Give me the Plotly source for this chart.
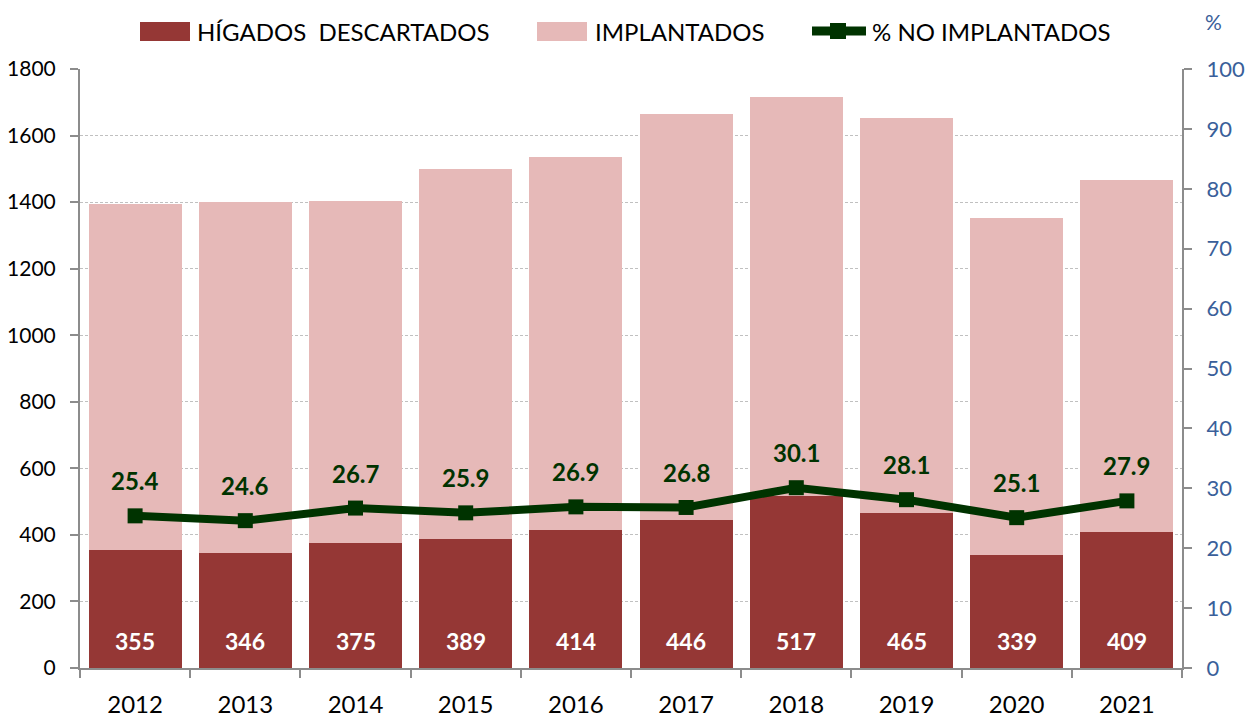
import plotly.graph_objects as go

years = ["2012", "2013", "2014", "2015", "2016", "2017", "2018", "2019", "2020", "2021"]
descartados = [355, 346, 375, 389, 414, 446, 517, 465, 339, 409]
implantados = [1038, 1054, 1029, 1111, 1123, 1218, 1199, 1187, 1012, 1057]
pct_no_impl = [25.4, 24.6, 26.7, 25.9, 26.9, 26.8, 30.1, 28.1, 25.1, 27.9]
names = ["HÍGADOS  DESCARTADOS", "IMPLANTADOS", "% NO IMPLANTADOS"]

C_DARK = "#953735"
C_PINK = "#E6B9B8"
C_LINE = "#003300"
C_BLUE = "#3A5F9A"
FONT = "Lato"

W, H = 1246, 711
ML, MR, MT, MB = 72, 72, 61, 51
PW, PH = W - ML - MR, H - MT - MB


def px(x):
    return (x - ML) / PW


def py(y):
    return 1 - (y - MT) / PH


fig = go.Figure()
fig.add_trace(go.Bar(
    x=years, y=descartados, name=names[0],
    marker=dict(color=C_DARK, line=dict(width=0)),
))
fig.add_trace(go.Bar(
    x=years, y=implantados, name=names[1],
    marker=dict(color=C_PINK, line=dict(width=0)),
))
fig.add_trace(go.Scatter(
    x=years, y=pct_no_impl, name=names[2], yaxis="y2",
    mode="lines+markers",
    line=dict(color=C_LINE, width=8),
    marker=dict(symbol="square", size=15, color=C_LINE),
))
for i, v in enumerate(descartados):
    fig.add_annotation(x=i, y=0, xref="x", yref="y", text=str(v), showarrow=False,
                       yanchor="middle", yshift=27,
                       font=dict(color="white", size=23, family=FONT, weight="bold"))
for i, p in enumerate(pct_no_impl):
    fig.add_annotation(x=i, y=p, xref="x", yref="y2", text=f"{p:.1f}", showarrow=False,
                       yshift=35, font=dict(color=C_LINE, size=24, family=FONT, weight="bold"))

# custom legend
ly = 23
shapes = [
    dict(type="rect", xref="paper", yref="paper", x0=px(132), x1=px(182), y0=py(14), y1=py(33),
         fillcolor=C_DARK, line=dict(width=0)),
    dict(type="rect", xref="paper", yref="paper", x0=px(529), x1=px(579), y0=py(14), y1=py(33),
         fillcolor=C_PINK, line=dict(width=0)),
    dict(type="line", xref="paper", yref="paper", x0=px(804), x1=px(858), y0=py(ly), y1=py(ly),
         line=dict(color=C_LINE, width=9)),
    dict(type="rect", xref="paper", yref="paper", x0=px(822), x1=px(838), y0=py(ly - 8), y1=py(ly + 8),
         fillcolor=C_LINE, line=dict(width=0)),
]
for xpos, txt in zip([187, 585, 862], names):
    fig.add_annotation(x=px(xpos), y=py(ly), xref="paper", yref="paper", xanchor="left",
                       yanchor="middle", text=txt, showarrow=False,
                       font=dict(size=24, family=FONT, color="black"))

fig.add_annotation(x=px(1205), y=py(13), xref="paper", yref="paper", xanchor="center",
                   yanchor="middle", text="%", showarrow=False,
                   font=dict(color=C_BLUE, size=21, family=FONT))

fig.update_layout(
    barmode="stack", bargap=0.155,
    width=W, height=H, showlegend=False, shapes=shapes,
    margin=dict(l=ML, r=MR, t=MT, b=MB, autoexpand=False),
    plot_bgcolor="white", paper_bgcolor="white",
    font=dict(family=FONT, size=20, color="black"),
    xaxis=dict(type="category", range=[-0.5, len(years) - 0.5], showline=True,
               linecolor="#8c8c8c", linewidth=2, ticks="outside",
               tickson="boundaries", tickcolor="#8c8c8c", ticklen=8, tickwidth=2,
               tickfont=dict(size=24), ticklabelstandoff=14, automargin=False),
    yaxis=dict(range=[0, 1800], dtick=200, showline=True, linecolor="#8c8c8c", linewidth=2,
               ticks="outside", tickcolor="#8c8c8c", ticklen=8, tickwidth=2,
               showgrid=True, gridcolor="#c0c0c0", griddash="3px,2px", gridwidth=1,
               tickfont=dict(size=21), ticklabelstandoff=10, zeroline=False, automargin=False),
    yaxis2=dict(range=[0, 100], dtick=10, overlaying="y", side="right", showline=True,
                linecolor="#8c8c8c", linewidth=2, ticks="outside", tickcolor="#8c8c8c",
                ticklen=8, tickwidth=2, showgrid=False, zeroline=False, automargin=False,
                ticklabelstandoff=10, tickfont=dict(size=22, color=C_BLUE)),
)
fig.write_html("out.html")
